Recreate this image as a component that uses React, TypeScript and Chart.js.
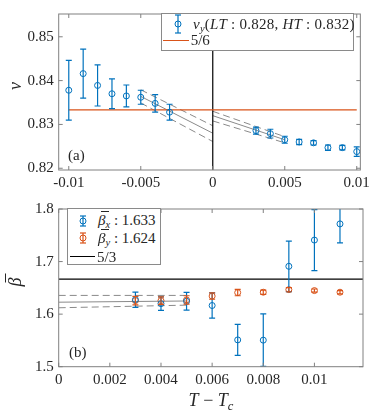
import React, { useEffect, useRef } from "react";
import { Chart, registerables } from "chart.js";
Chart.register(...registerables);

const BLUE = "#0072BD";
const ORANGE = "#D95319";
const GRAY = "#8a8a8a";
const AXIS = "#808080";
const TEXT = "#262626";
const FONT = "'Liberation Serif', 'Times New Roman', serif";

// ---------- Panel (a) ----------
const nuT = [-0.01, -0.009, -0.008, -0.007, -0.006, -0.005, -0.004, -0.003, 0.003, 0.004, 0.005, 0.006, 0.007, 0.008, 0.009, 0.01];
const nuVal = [0.8378, 0.8416, 0.8389, 0.837, 0.8365, 0.8362, 0.8348, 0.8328, 0.8286, 0.8279, 0.8265, 0.826, 0.8258, 0.8247, 0.8247, 0.8238];
const nuErr = [0.0068, 0.0056, 0.0047, 0.0034, 0.0025, 0.0016, 0.002, 0.0018, 0.0008, 0.001, 0.0008, 0.0006, 0.0005, 0.0006, 0.0005, 0.0011];
const nuRef = 5 / 6;
const nuRefX = [-0.01, 0.01];
const fitLowX = [-0.005, 0];
const fitLowMid = [0.8364, 0.828];
const fitLowUp = [0.8379, 0.8297];
const fitLowDn = [0.8349, 0.8261];
const fitHighX = [0, 0.005];
const fitHighMid = [0.832, 0.8265];
const fitHighUp = [0.833, 0.8272];
const fitHighDn = [0.8308, 0.8258];
const aXRange = [-0.0107, 0.01025];
const aYRange = [0.8196, 0.8552];
const aXTicks = [-0.01, -0.005, 0, 0.005, 0.01];
const aXTickLabels = ["-0.01", "-0.005", "0", "0.005", "0.01"];
const aYTicks = [0.82, 0.83, 0.84, 0.85];
const aYTickLabels = ["0.82", "0.83", "0.84", "0.85"];

// ---------- Panel (b) ----------
const betaT = [0.003, 0.004, 0.005, 0.006, 0.007, 0.008, 0.009, 0.01, 0.011];
const betaX = [1.6275, 1.62, 1.6245, 1.6164, 1.551, 1.5505, 1.691, 1.7409, 1.7717];
const betaXErr = [0.0145, 0.013, 0.017, 0.024, 0.0295, 0.05, 0.048, 0.058, 0.036];
const betaY = [1.6257, 1.6257, 1.627, 1.6343, 1.641, 1.6417, 1.6466, 1.6448, 1.6417];
const betaYErr = [0.008, 0.007, 0.008, 0.006, 0.006, 0.004, 0.004, 0.003, 0.003];
const betaRef = 5 / 3;
const bFitX = [0, 0.005];
const bFitMid = [1.6227, 1.625];
const bFitUp = [1.6356, 1.6356];
const bFitDn = [1.6121, 1.6171];
const bXRange = [0, 0.0119];
const bYRange = [1.5, 1.8];
const bXTicks = [0, 0.002, 0.004, 0.006, 0.008, 0.01];
const bXTickLabels = ["0", "0.002", "0.004", "0.006", "0.008", "0.01"];
const bYTicks = [1.5, 1.6, 1.7, 1.8];
const bYTickLabels = ["1.5", "1.6", "1.7", "1.8"];

const pts = (xs: number[], ys: number[]) => xs.map((x, i) => ({ x, y: ys[i] }));

const lineDs = (xs: number[], ys: number[], color: string, width: number, dash: number[] = []) => ({
  type: "line",
  data: pts(xs, ys),
  borderColor: color,
  borderWidth: width,
  borderDash: dash,
  pointRadius: 0,
  showLine: true,
  fill: false,
  tension: 0,
});

const markerDs = (xs: number[], ys: number[], errs: number[], color: string) => ({
  type: "scatter",
  data: pts(xs, ys),
  errorBars: errs,
  borderColor: color,
  backgroundColor: "rgba(0,0,0,0)",
  pointStyle: "circle",
  pointRadius: 3,
  pointBorderWidth: 1,
  showLine: false,
});

const errorBarPlugin = {
  id: "errbars",
  afterDatasetsDraw(chart: any) {
    const { ctx, chartArea: a } = chart;
    const x = chart.scales.x;
    const y = chart.scales.y;
    ctx.save();
    ctx.beginPath();
    ctx.rect(a.left, a.top, a.right - a.left, a.bottom - a.top);
    ctx.clip();
    chart.data.datasets.forEach((ds: any) => {
      if (!ds.errorBars) return;
      ctx.strokeStyle = ds.borderColor;
      ctx.lineWidth = 1.2;
      ds.data.forEach((p: any, i: number) => {
        const e = ds.errorBars[i];
        const px = x.getPixelForValue(p.x);
        const top = y.getPixelForValue(p.y + e);
        const bot = y.getPixelForValue(p.y - e);
        ctx.beginPath();
        ctx.moveTo(px, top);
        ctx.lineTo(px, bot);
        ctx.moveTo(px - 3, top);
        ctx.lineTo(px + 3, top);
        ctx.moveTo(px - 3, bot);
        ctx.lineTo(px + 3, bot);
        ctx.stroke();
      });
    });
    ctx.restore();
  },
};

const framePlugin = {
  id: "frame",
  afterDraw(chart: any) {
    const { ctx, chartArea: a } = chart;
    const x = chart.scales.x;
    const y = chart.scales.y;
    ctx.save();
    ctx.strokeStyle = AXIS;
    ctx.lineWidth = 1;
    ctx.strokeRect(a.left, a.top, a.right - a.left, a.bottom - a.top);
    const L = 4;
    ctx.beginPath();
    x.ticks.forEach((t: any) => {
      const px = x.getPixelForValue(t.value);
      ctx.moveTo(px, a.bottom);
      ctx.lineTo(px, a.bottom - L);
      ctx.moveTo(px, a.top);
      ctx.lineTo(px, a.top + L);
    });
    y.ticks.forEach((t: any) => {
      const py = y.getPixelForValue(t.value);
      ctx.moveTo(a.left, py);
      ctx.lineTo(a.left + L, py);
      ctx.moveTo(a.right, py);
      ctx.lineTo(a.right - L, py);
    });
    ctx.stroke();
    ctx.restore();
  },
};

function makeOptions(
  xr: number[], yr: number[], xt: number[], xl: string[], yt: number[], yl: string[],
  padTop: number, xAxisH: number
) {
  const tickFont = { family: FONT, size: 15 };
  return {
    animation: false,
    responsive: false,
    events: [],
    layout: { padding: { left: 0, right: 11, top: padTop, bottom: 0 } },
    plugins: { legend: { display: false }, tooltip: { enabled: false } },
    scales: {
      x: {
        type: "linear",
        min: xr[0],
        max: xr[1],
        grid: { display: false, drawTicks: false },
        border: { display: false },
        ticks: {
          font: tickFont,
          color: TEXT,
          padding: 4,
          autoSkip: false,
          maxRotation: 0,
          callback: (_v: any, i: number) => xl[i],
        },
        afterBuildTicks: (s: any) => {
          s.ticks = xt.map((v) => ({ value: v }));
        },
        afterFit: (s: any) => {
          s.height = xAxisH;
        },
      },
      y: {
        type: "linear",
        min: yr[0],
        max: yr[1],
        grid: { display: false, drawTicks: false },
        border: { display: false },
        ticks: {
          font: tickFont,
          color: TEXT,
          padding: 5,
          autoSkip: false,
          callback: (_v: any, i: number) => yl[i],
        },
        afterBuildTicks: (s: any) => {
          s.ticks = yt.map((v) => ({ value: v }));
        },
        afterFit: (s: any) => {
          s.width = 58.7;
        },
      },
    },
  };
}

const abs = (left: number, top: number, extra: any = {}) => ({
  position: "absolute" as const,
  left,
  top,
  ...extra,
});

const Sub = ({ children }: { children: any }) => (
  <sub style={{ fontSize: "0.7em", verticalAlign: "-0.3em", lineHeight: 0 }}>{children}</sub>
);

// beta with a bar over it
const BetaBar = () => (
  <i style={{ position: "relative", display: "inline-block" }}>
    β
    <span
      style={{
        position: "absolute",
        left: "0.2em",
        width: "0.5em",
        top: "-0.02em",
        borderTop: "1px solid currentColor",
      }}
    />
  </i>
);

const ErrIcon = ({ cx, cy, h, color }: { cx: number; cy: number; h: number; color: string }) => (
  <svg width={10} height={h + 4} style={abs(cx - 5, cy - h / 2 - 2)}>
    <g stroke={color} strokeWidth={1.2} fill="none">
      <line x1={5} y1={2} x2={5} y2={h + 2} />
      <line x1={2} y1={2} x2={8} y2={2} />
      <line x1={2} y1={h + 2} x2={8} y2={h + 2} />
      <circle cx={5} cy={h / 2 + 2} r={3} strokeWidth={1} />
    </g>
  </svg>
);

const HLine = ({ x1, x2, y, color }: { x1: number; x2: number; y: number; color: string }) => (
  <div style={abs(x1, y - 0.75, { width: x2 - x1, height: 1.5, background: color })} />
);

export default function App() {
  const topRef = useRef<HTMLCanvasElement>(null);
  const botRef = useRef<HTMLCanvasElement>(null);

  useEffect(() => {
    const top = new Chart(topRef.current as HTMLCanvasElement, {
      type: "scatter",
      data: {
        datasets: [
          markerDs(nuT, nuVal, nuErr, BLUE),
          lineDs(nuRefX, nuRefX.map(() => nuRef), ORANGE, 1.3),
          lineDs([0, 0], aYRange, "#000000", 1.2),
          lineDs(fitLowX, fitLowMid, GRAY, 1),
          lineDs(fitLowX, fitLowUp, GRAY, 1, [7, 4]),
          lineDs(fitLowX, fitLowDn, GRAY, 1, [7, 4]),
          lineDs(fitHighX, fitHighMid, GRAY, 1),
          lineDs(fitHighX, fitHighUp, GRAY, 1, [7, 4]),
          lineDs(fitHighX, fitHighDn, GRAY, 1, [7, 4]),
        ] as any,
      },
      options: makeOptions(aXRange, aYRange, aXTicks, aXTickLabels, aYTicks, aYTickLabels, 6, 25) as any,
      plugins: [errorBarPlugin, framePlugin],
    });
    const bot = new Chart(botRef.current as HTMLCanvasElement, {
      type: "scatter",
      data: {
        datasets: [
          markerDs(betaT, betaX, betaXErr, BLUE),
          markerDs(betaT, betaY, betaYErr, ORANGE),
          lineDs(bXRange, bXRange.map(() => betaRef), "#000000", 1.2),
          lineDs(bFitX, bFitMid, GRAY, 1),
          lineDs(bFitX, bFitUp, GRAY, 1, [7, 4]),
          lineDs(bFitX, bFitDn, GRAY, 1, [7, 4]),
        ] as any,
      },
      options: makeOptions(bXRange, bYRange, bXTicks, bXTickLabels, bYTicks, bYTickLabels, 9.3, 46.3) as any,
      plugins: [errorBarPlugin, framePlugin],
    });
    return () => {
      top.destroy();
      bot.destroy();
    };
  }, []);

  const txt = { fontFamily: FONT, color: TEXT, fontSize: 15, lineHeight: "18px", whiteSpace: "nowrap" as const };

  return (
    <div style={{ position: "absolute", left: 0, top: 0, width: 374, height: 413, background: "#fff", overflow: "hidden" }}>
      <canvas ref={topRef} width={374} height={195} style={abs(0, 0, { width: 374, height: 195 })} />
      <canvas ref={botRef} width={374} height={218} style={abs(0, 195, { width: 374, height: 218 })} />

      {/* Legend (a) */}
      <div style={abs(161, 12.7, { width: 193, height: 38, border: "1px solid #8a8a8a", background: "#fff", boxSizing: "border-box" })} />
      <ErrIcon cx={178.3} cy={24.3} h={18} color={BLUE} />
      <div style={abs(193, 15, { ...txt, letterSpacing: "0.25px" })}>
        <i>ν</i><Sub><i>y</i></Sub>(<i>LT</i> : 0.828, <i>HT</i> : 0.832)
      </div>
      <HLine x1={163} x2={189} y={40.3} color={ORANGE} />
      <div style={abs(190.7, 31.3, txt)}>5/6</div>

      {/* Legend (b) */}
      <div style={abs(66.7, 208.3, { width: 94.3, height: 56.7, border: "1px solid #8a8a8a", background: "#fff", boxSizing: "border-box" })} />
      <ErrIcon cx={83.3} cy={220.5} h={10} color={BLUE} />
      <div style={abs(98, 211, txt)}>
        <BetaBar /><Sub><i>x</i></Sub> : 1.633
      </div>
      <ErrIcon cx={83.3} cy={238.3} h={10} color={ORANGE} />
      <div style={abs(98, 229, txt)}>
        <BetaBar /><Sub><i>y</i></Sub> : 1.624
      </div>
      <HLine x1={70} x2={95} y={256.7} color={"#000"} />
      <div style={abs(97, 247.7, txt)}>5/3</div>

      {/* Panel labels */}
      <div style={abs(68, 145.5, txt)}>(a)</div>
      <div style={abs(69, 342.5, txt)}>(b)</div>

      {/* Axis titles */}
      <div style={abs(15, 86, { ...txt, fontSize: 18, lineHeight: "20px", transform: "translate(-50%,-50%) rotate(-90deg)" })}>
        <i>ν</i>
      </div>
      <div style={abs(15, 282, { ...txt, fontSize: 18, lineHeight: "20px", transform: "translate(-50%,-50%) rotate(-90deg)" })}>
        <BetaBar />
      </div>
      <div style={abs(211, 400, { ...txt, fontSize: 18, lineHeight: "20px", transform: "translate(-50%,-50%)" })}>
        <i>T</i> − <i>T</i><Sub><i>c</i></Sub>
      </div>
    </div>
  );
}
